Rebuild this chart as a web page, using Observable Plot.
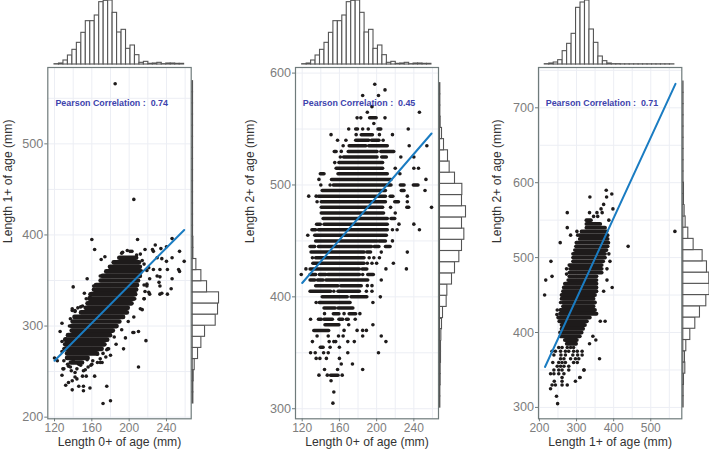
<!DOCTYPE html>
<html><head><meta charset="utf-8">
<script src="https://cdn.jsdelivr.net/npm/d3@7"></script>
<script src="https://cdn.jsdelivr.net/npm/@observablehq/plot@0.6"></script>
<style>
html,body{margin:0;padding:0;background:#fff;overflow:hidden}
#fig{position:relative;width:709px;height:451px}
#fig svg{position:absolute;left:0;top:0;background:transparent}
</style></head><body><div id="fig"></div>
<script>
// Marginal histograms (relative frequency)
const hist0Start = 120, hist0Bin = 4.79;
const hist0 = [1,3,12,27,44,65,95,130,130,147,187,191,192,155,96,104,47,57,28,5,8,2,3,5,1,3,3,2,2];
const hist1TopStart = 214.4, hist1TopBin = 12.04;
const hist1Top = [1,3,6,13,40,62,92,170,186,192,105,65,24,10,3,1,1,.6,.6,.6,.6,.6,.6,.6,.6,.6,.6,.6,.6];
const hist1Start = 215, hist1Bin = 12.2;
const hist1 = [2,2,3,6,16,26,37,69,76,79,43,26,11,2,2,1,1,1,1,1,1,1,1,1,1,1,1,1,1];
const hist2aStart = 301, hist2aBin = 10;
const hist2a = [1,1,2,2,3,3,4,6,9,20,22,36,45,58,66,73,66,78,66,67,45,29,24,12,6,2,1,1,1];
const hist2bStart = 300, hist2bBin = 15;
const hist2b = [1,1,2,6,5,9,21,36,50,69,79,78,71,58,31,15,7,4,2,2,.7,.7,.7,.7,.7,.7,.7,.7,.7];

// Fitted lines
const fit1 = [[120,262],[259,405.5]];
const fit2 = [[120,412.4],[259,546]];
const fit3 = [[215,354],[566.6,732]];

// Panel 1: dense rows [y, xStart, xEnd] and scattered points [x, y]
const runs1 = [[375,190,208],[370,184,211],[365,180,212],[360,176,213],[355,172,212],[350,170,210],[345,165,209],[340,163,208],[335,160,207],[330,158,205],[325,156,203],[320,154,199],[315,149,198],[310,142,194],[305,140,190],[300,139,187],[295,139,183],[290,135,180],[285,132,177],[280,132,174],[275,132,171],[270,134,166],[265,134,156],[260,138,150]];
const dots1 = [[185,566],[205,439],[160,395],[163,384],[209,395],[170,373],[174,376],[140,343],[155,352],[128,303],[126,294],[120,265],[123,262],[128,272],[139,317],[142,316],[217,384],[225,384],[226,382],[228,389],[234,385],[240,387],[246,396],[254,382],[259,371],[246,375],[240,371],[235,374],[230,375],[221,364],[226,362],[233,362],[241,362],[253,362],[254,360],[230,355],[233,354],[246,352],[232,348],[233,344],[245,341],[241,335],[233,335],[235,336],[222,335],[219,344],[217,338],[216,330],[214,318],[210,294],[204,293],[218,284],[205,310],[196,287],[194,275],[177,275],[210,255],[176,234],[180,218],[172,215],[128,246],[129,253],[135,256],[138,251],[144,253],[148,257],[153,252],[156,255],[160,258],[163,245],[154,245],[150,245],[144,242],[139,240],[135,238],[132,235],[142,244],[146,234],[139,230],[151,234],[151,229],[158,232],[169,264],[166,260],[171,260],[176,274],[166,269],[155,263],[193,381],[198,383],[203,382],[208,378],[214,372],[162,340],[158,332],[150,322],[145,320],[136,300],[128,283],[180,268],[186,280],[192,296],[199,305],[206,330],[216,345],[213,360],[222,352],[152,336],[162,344],[169,355],[184,370],[192,380],[201,382],[212,379],[216,368],[219,361],[219,346],[221,337],[216,330],[212,319],[205,293],[184,288],[178,275],[169,260],[161,262],[159,257],[151,251],[142,249],[137,255],[130,253],[139,319],[142,317],[137,308],[132,286],[130,275],[154,330],[158,335],[148,321],[130,262],[134,258],[140,262],[146,258],[175,266],[172,270]];

// Panel 2: rows of measured lengths [y, xStart, xEnd] and single points [x, y]
const runs2 = [[545,184,196],[540,178,192],[540,195,203],[535,171,189],[535,192,212],[530,155,157],[530,170,201],[530,205,219],[525,165,201],[525,206,211],[520,160,207],[515,157,207],[510,140,144],[510,159,212],[505,152,216],[500,154,216],[500,226,230],[500,240,245],[495,142,210],[495,227,230],[490,138,210],[490,215,218],[485,141,210],[485,220,224],[480,141,207],[480,233,235],[475,141,208],[470,143,212],[470,216,220],[465,136,140],[465,144,212],[460,131,135],[460,138,212],[455,134,211],[450,135,201],[450,203,210],[445,129,134],[445,138,195],[445,198,203],[445,210,215],[440,130,187],[440,190,194],[435,135,187],[430,132,187],[425,129,182],[425,185,190],[420,129,135],[420,139,146],[420,148,182],[420,191,197],[415,129,134],[415,137,143],[415,146,191],[410,135,159],[410,162,184],[405,129,151],[405,159,182],[400,142,169],[400,173,190],[395,139,172],[390,144,156],[390,159,175],[385,154,160],[385,171,178],[380,138,141],[380,144,153],[380,160,164],[380,168,170],[375,145,160],[370,133,149],[355,140,143],[330,151,159],[560,193,200],[550,178,180],[550,202,205]];
const dots2 = [[198,590],[209,585],[185,580],[202,580],[195,570],[190,565],[246,565],[179,560],[183,560],[209,560],[197,555],[170,550],[185,550],[191,550],[234,550],[151,545],[178,545],[203,545],[217,545],[158,540],[167,540],[207,540],[164,535],[235,535],[254,535],[162,530],[161,525],[226,525],[240,525],[155,520],[220,515],[240,515],[245,515],[225,510],[138,505],[253,505],[140,500],[150,500],[252,495],[127,490],[135,490],[233,490],[136,485],[233,485],[215,480],[259,480],[220,475],[224,465],[240,465],[217,460],[222,460],[246,460],[126,455],[217,450],[233,440],[205,440],[131,435],[192,435],[197,435],[203,435],[190,430],[195,430],[200,430],[218,430],[124,425],[210,425],[232,425],[119,420],[185,420],[205,415],[190,410],[195,410],[154,405],[189,405],[195,405],[204,400],[135,395],[196,395],[144,385],[165,385],[182,385],[129,380],[177,380],[170,375],[196,375],[165,370],[179,370],[185,370],[189,370],[136,365],[148,365],[159,365],[164,365],[185,365],[205,365],[131,360],[149,360],[154,360],[156,360],[169,360],[176,360],[210,360],[150,355],[160,355],[129,350],[134,350],[143,350],[148,350],[169,350],[202,350],[135,345],[139,345],[146,345],[160,345],[162,340],[174,340],[144,335],[158,335],[185,335],[138,330],[147,330],[163,330],[151,325],[154,315],[153,305]];

// Panel 3: dense rows [y, xStart, xEnd] and scattered points [x, y]
const runs3 = [[550,328,340],[545,328,365],[540,328,378],[535,315,382],[530,310,385],[525,310,385],[520,301,387],[515,300,385],[510,297,382],[505,292,378],[500,292,378],[495,292,373],[490,282,369],[485,284,369],[480,282,369],[475,282,355],[470,279,355],[465,270,355],[460,267,355],[455,265,355],[450,261,351],[445,261,347],[440,265,351],[435,265,347],[430,258,351],[425,257,355],[420,252,337],[415,255,329],[410,261,324],[405,261,319],[400,257,315],[395,258,310],[390,270,302],[385,275,300]];
const dots3 = [[380,590],[395,585],[336,581],[381,581],[373,571],[366,565],[398,565],[275,560],[335,560],[355,560],[369,560],[346,555],[357,555],[387,550],[275,540],[284,530],[301,535],[303,530],[256,520],[439,515],[231,495],[234,475],[217,470],[214,450],[273,485],[273,478],[390,495],[382,485],[387,505],[382,470],[373,455],[396,460],[565,535],[364,415],[377,415],[344,395],[352,390],[335,385],[362,365],[320,350],[309,340],[297,335],[252,380],[261,380],[275,380],[284,380],[292,380],[234,375],[243,375],[257,375],[270,375],[279,375],[292,375],[302,375],[315,375],[239,370],[258,370],[270,370],[290,370],[303,370],[315,370],[257,365],[266,365],[284,365],[297,365],[306,365],[236,360],[252,360],[261,360],[270,360],[292,360],[302,360],[248,355],[257,355],[266,355],[279,355],[239,350],[252,350],[261,350],[279,350],[320,350],[230,345],[239,345],[252,345],[266,345],[261,340],[309,340],[240,335],[261,335],[234,330],[243,330],[261,330],[275,330],[230,325],[246,315],[249,305],[257,440],[247,424],[248,430]];

const labelsPearson = ["Pearson Correlation :  0.74","Pearson Correlation :  0.45","Pearson Correlation :  0.71"];

const W = 709, H = 451, inkDot = "#1e1b1b", blue = "#1a7cc2", gridC = "#eceef4";
const fig = document.getElementById("fig");
const seq = (a,b,s) => d3.range(a,b+.001,s);

function rects(start, bin, vals){
  return vals.map((v,i)=>({a:start+i*bin,b:start+(i+1)*bin,v}));
}
function panel(o){
  const base = {width:W,height:H,style:{background:"transparent",fontFamily:"'Liberation Sans',Arial,sans-serif"},
    marginLeft:o.left,marginRight:W-o.right,marginTop:67,marginBottom:H-418.3};
  fig.append(Plot.plot({...base,
    x:{domain:o.xd,axis:null},y:{domain:o.yd,axis:null},
    marks:[
      Plot.gridX(seq(o.xg[0],o.xg[1],o.xg[2]),{stroke:gridC,strokeOpacity:1,strokeWidth:1}),
      Plot.gridY(seq(o.yg[0],o.yg[1],50),{stroke:gridC,strokeOpacity:1,strokeWidth:1}),
      Plot.ruleY(o.runs,{y:d=>d[0],x1:d=>d[1],x2:d=>d[2],stroke:inkDot,strokeWidth:o.rw,strokeLinecap:"round"}),
      Plot.dot(o.dots,{x:d=>d[0],y:d=>d[1],r:1.8,fill:inkDot}),
      Plot.line(o.fit,{x:d=>d[0],y:d=>d[1],stroke:blue,strokeWidth:2}),
      Plot.text([o.pearson],{x:o.px,y:o.py,text:d=>d,textAnchor:"start",fontSize:8.9,fontWeight:"bold",fill:"#3d43ad"}),
      Plot.frame({stroke:"#6f7b7b",strokeWidth:1.2}),
      Plot.axisX(o.xt,{anchor:"bottom",tickSize:3,tickPadding:1.5,fontSize:12,color:"#7d7d7d",stroke:"#6f7b7b",label:null}),
      Plot.axisY(o.yt,{anchor:"left",tickSize:3,tickPadding:1.5,fontSize:12.6,color:"#7d7d7d",stroke:"#6f7b7b",label:null}),
      Plot.text([o.xl],{text:d=>d,frameAnchor:"bottom",dy:23,lineAnchor:"middle",fontSize:12.2,fill:"#333"}),
      Plot.text([o.yl],{text:d=>d,frameAnchor:"left",dx:-o.lo,rotate:-90,lineAnchor:"middle",fontSize:12.2,fill:"#333"})
    ]}));
  // top histogram
  fig.append(Plot.plot({...base,marginTop:0,marginBottom:H-64,
    x:{domain:o.xd,axis:null},y:{domain:[0,192],axis:null},
    marks:[Plot.rect(rects(o.ht[0],o.ht[1],o.ht[2]),{x1:"a",x2:"b",y1:0,y2:"v",fill:"#fff",stroke:"#555",strokeWidth:1.1})]}));
  // right histogram
  fig.append(Plot.plot({...base,marginLeft:o.right+1.5,marginRight:W-o.right-1.5-(o.hr[3]/3),
    x:{domain:[0,o.hr[3]],axis:null},y:{domain:o.yd,axis:null},
    marks:[Plot.rect(rects(o.hr[0],o.hr[1],o.hr[2]),{y1:"a",y2:"b",x1:0,x2:"v",fill:"#fff",stroke:"#555",strokeWidth:1.1})]}));
}

panel({left:47.3,right:190.7,xd:[112.8,266.5],yd:[198.2,583.8],xg:[120,260,20],yg:[200,550],
  xt:[120,160,200,240],yt:[200,300,400,500],xl:"Length 0+ of age (mm)",yl:"Length 1+ of age (mm)",lo:40,
  runs:runs1,dots:dots1,rw:4.7,fit:fit1,pearson:labelsPearson[0],px:121,py:544.6,
  ht:[hist0Start,hist0Bin,hist0],hr:[hist1Start,hist1Bin,hist1,80]});
panel({left:295,right:438,xd:[112.8,266.5],yd:[291,605],xg:[120,260,20],yg:[300,600],
  xt:[120,160,200,240],yt:[300,400,500,600],xl:"Length 0+ of age (mm)",yl:"Length 2+ of age (mm)",lo:45,
  runs:runs2,dots:dots2,rw:3.5,fit:fit2,pearson:labelsPearson[1],px:120.7,py:573,
  ht:[hist0Start,hist0Bin,hist0],hr:[hist2aStart,hist2aBin,hist2a,78]});
panel({left:538,right:681.3,xd:[197.5,583.6],yd:[284.8,753.8],xg:[200,550,50],yg:[300,750],
  xt:[200,300,400,500],yt:[300,400,500,600,700],xl:"Length 1+ of age (mm)",yl:"Length 2+ of age (mm)",lo:41,
  runs:runs3,dots:dots3,rw:3.9,fit:fit3,pearson:labelsPearson[2],px:217,py:706,
  ht:[hist1TopStart,hist1TopBin,hist1Top],hr:[hist2bStart,hist2bBin,hist2b,80]});
</script></body></html>
